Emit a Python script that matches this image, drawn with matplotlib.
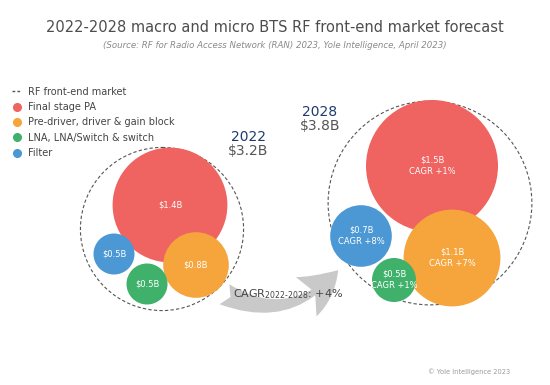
import matplotlib.pyplot as plt
from matplotlib.patches import Circle, FancyArrowPatch
from matplotlib.lines import Line2D
import numpy as np

# data
years = ["2022", "2028"]
totals = [3.2, 3.8]
segments = ["Final stage PA", "Pre-driver, driver & gain block",
            "LNA, LNA/Switch & switch", "Filter"]
values_2022 = [1.4, 0.8, 0.5, 0.5]
values_2028 = [1.5, 1.1, 0.5, 0.7]
cagr_2028 = [1, 7, 1, 8]
cagr_total = 4

colors = ["#ef6360", "#f6a43c", "#3fb16b", "#4b98d5"]

# layout (pixels): bubble centres per panel, px per $B per panel
centres = {
    "2022": [(170, 205), (196, 265), (147, 284), (114, 254)],
    "2028": [(432, 166), (452, 258), (394, 280), (361, 236)],
}
outer_centre = {"2022": (162, 229), "2028": (430, 203)}
px_per_b = {"2022": 41, "2028": 44}

fig = plt.figure(figsize=(5.5, 3.85), dpi=100)
ax = fig.add_axes([0, 0, 1, 1])
ax.set_xlim(0, 550)
ax.set_ylim(385, 0)
ax.axis("off")

plt.rcParams["font.family"] = ["DejaVu Sans"]

for year, vals in zip(years, [values_2022, values_2028]):
    k = px_per_b[year]
    radii = [k * v for v in vals]
    r_out = 1.13 * np.sqrt(np.sum(np.square(radii)))
    ax.add_patch(Circle(outer_centre[year], r_out, fill=False, ls=(0, (3, 2)),
                        lw=0.8, ec="#555555", zorder=1))
    for i, (c, r, v) in enumerate(zip(centres[year], radii, vals)):
        ax.add_patch(Circle(c, r, color=colors[i], lw=0, zorder=2 + i))
        if year == "2022":
            lab = f"${v:.1f}B"
        else:
            lab = f"${v:.1f}B\nCAGR +{cagr_2028[i]}%"
        ax.text(c[0], c[1], lab, color="white", ha="center", va="center",
                fontsize=6, linespacing=1.4, zorder=10)

# year labels
ax.text(248, 137, years[0], ha="center", va="center", fontsize=10, color="#1d3b6e")
ax.text(248, 151, f"${totals[0]:.1f}B", ha="center", va="center", fontsize=10, color="#555555")
ax.text(320, 112, years[1], ha="center", va="center", fontsize=10, color="#1d3b6e")
ax.text(320, 126, f"${totals[1]:.1f}B", ha="center", va="center", fontsize=10, color="#555555")

# CAGR arrow
arr = FancyArrowPatch((222, 293), (340, 268), connectionstyle="arc3,rad=0.4",
                      arrowstyle="fancy,head_length=1.5,head_width=1.6,tail_width=0.8",
                      mutation_scale=20, color="#c9c9c9", lw=0, zorder=1)
ax.add_patch(arr)
ax.text(233, 297, "CAGR$_{\\mathregular{2022\u20102028}}$: +%d%%" % cagr_total,
        fontsize=8, color="#444444", va="baseline", ha="left", zorder=12)

# title
ax.text(275, 27, "2022-2028 macro and micro BTS RF front-end market forecast",
        ha="center", va="center", fontsize=10.5, color="#4d4d4d")
ax.text(275, 45, "(Source: RF for Radio Access Network (RAN) 2023, Yole Intelligence, April 2023)",
        ha="center", va="center", fontsize=6.2, style="italic", color="#8a8a8a")
ax.text(510, 372, "© Yole Intelligence 2023", ha="right", va="center",
        fontsize=4.8, color="#999999")

# legend
handles = [Line2D([0], [0], ls=(0, (2, 1.5)), color="#555555", lw=1)]
for col in colors:
    handles.append(Line2D([0], [0], ls="", marker="o", ms=5.5, color=col))
ax.legend(handles, ["RF front-end market"] + segments, loc="upper left",
          bbox_to_anchor=(0.015, 0.785), frameon=False, fontsize=7,
          handlelength=0.9, handletextpad=0.7, labelspacing=0.55,
          labelcolor="#444444", borderaxespad=0)

fig.savefig("out.png", dpi=100)
